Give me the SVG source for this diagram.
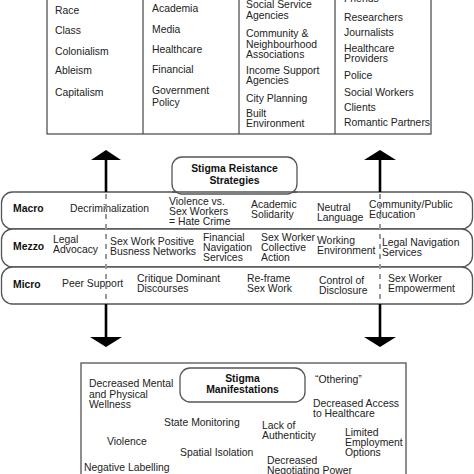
<svg xmlns="http://www.w3.org/2000/svg" width="474" height="474" viewBox="0 0 474 474">
<defs>
<style>
text{font-family:"Liberation Sans",Arial,Helvetica,sans-serif;font-size:10.4px;fill:#222}
.b{font-weight:bold;fill:#111}
.box{fill:#fff;stroke:#444;stroke-width:1.2}
.band{fill:#fff;stroke:#555;stroke-width:1.3}
.shaft{stroke:#000;stroke-width:2.6;fill:none}
.dash{stroke:#999;stroke-width:2;stroke-dasharray:5 5;fill:none}
.head{fill:#000}
</style>
</defs>
<rect width="474" height="474" fill="#fff"/>

<g id="influences">
<rect class="box" x="47" y="-10" width="384" height="144"/>
<line x1="143" y1="-10" x2="143" y2="134" stroke="#444" stroke-width="1.2"/>
<line x1="239" y1="-10" x2="239" y2="134" stroke="#444" stroke-width="1.2"/>
<line x1="335" y1="-10" x2="335" y2="134" stroke="#444" stroke-width="1.2"/>
<text x="55" y="14">Race</text>
<text x="55" y="34">Class</text>
<text x="55" y="55">Colonialism</text>
<text x="55" y="74">Ableism</text>
<text x="55" y="96">Capitalism</text>
<text x="152" y="12">Academia</text>
<text x="152" y="33">Media</text>
<text x="152" y="53">Healthcare</text>
<text x="152" y="73">Financial</text>
<text x="152" y="94">Government</text>
<text x="152" y="106">Policy</text>
<text x="246" y="8">Social Service</text>
<text x="246" y="19">Agencies</text>
<text x="246" y="37">Community &amp;</text>
<text x="246" y="48">Neighbourhood</text>
<text x="246" y="58">Associations</text>
<text x="246" y="74">Income Support</text>
<text x="246" y="84">Agencies</text>
<text x="246" y="102">City Planning</text>
<text x="246" y="117">Built</text>
<text x="246" y="127">Environment</text>
<text x="344" y="2">Friends</text>
<text x="344" y="21">Researchers</text>
<text x="344" y="36">Journalists</text>
<text x="344" y="52">Healthcare</text>
<text x="344" y="62">Providers</text>
<text x="344" y="79">Police</text>
<text x="344" y="96">Social Workers</text>
<text x="344" y="111">Clients</text>
<text x="344" y="126">Romantic Partners</text>
</g>

<g id="macro">
<rect class="band" x="1.5" y="192" width="471" height="37" rx="11"/>
<text class="b" x="13" y="212">Macro</text>
<text x="70" y="212">Decriminalization</text>
<text x="169" y="205">Violence vs.</text>
<text x="169" y="215">Sex Workers</text>
<text x="169" y="225">= Hate Crime</text>
<text x="251" y="208">Academic</text>
<text x="251" y="218">Solidarity</text>
<text x="317" y="211">Neutral</text>
<text x="317" y="221">Language</text>
<text x="369" y="208">Community/Public</text>
<text x="369" y="218">Education</text>
</g>

<g id="mezzo">
<rect class="band" x="1.5" y="229" width="471" height="38" rx="11"/>
<text class="b" x="13" y="250">Mezzo</text>
<text x="53" y="243">Legal</text>
<text x="53" y="253">Advocacy</text>
<text x="110" y="245">Sex Work Positive</text>
<text x="110" y="255">Busness Networks</text>
<text x="203" y="241">Financial</text>
<text x="203" y="251">Navigation</text>
<text x="203" y="261">Services</text>
<text x="261" y="241">Sex Worker</text>
<text x="261" y="251">Collective</text>
<text x="261" y="261">Action</text>
<text x="317" y="244">Working</text>
<text x="317" y="254">Environment</text>
<text x="382" y="246">Legal Navigation</text>
<text x="382" y="256">Services</text>
</g>

<g id="micro">
<rect class="band" x="1.5" y="267" width="471" height="37" rx="11"/>
<text class="b" x="13" y="288">Micro</text>
<text x="62" y="287">Peer Support</text>
<text x="137" y="282">Critique Dominant</text>
<text x="137" y="292">Discourses</text>
<text x="247" y="282">Re-frame</text>
<text x="247" y="292">Sex Work</text>
<text x="319" y="284">Control of</text>
<text x="319" y="294">Disclosure</text>
<text x="388" y="282">Sex Worker</text>
<text x="388" y="292">Empowerment</text>
</g>

<g id="connectors">
<line class="shaft" x1="106" y1="158" x2="106" y2="192"/>
<polygon class="head" points="91,160 121,160 106,150"/>
<line class="dash" x1="106" y1="194" x2="106" y2="304"/>
<line class="shaft" x1="106" y1="304" x2="106" y2="339"/>
<polygon class="head" points="90,337 122,337 106,347"/>
<line class="shaft" x1="380" y1="158" x2="380" y2="192"/>
<polygon class="head" points="364,160 396,160 380,150"/>
<line class="dash" x1="380" y1="194" x2="380" y2="304"/>
<line class="shaft" x1="380" y1="304" x2="380" y2="339"/>
<polygon class="head" points="364,337 396,337 380,347"/>
</g>

<g id="resistance-title">
<rect class="band" x="172" y="157" width="125" height="37" rx="10"/>
<line x1="172" y1="192" x2="297" y2="192" stroke="#555" stroke-width="1.3"/>
<text class="b" x="234.5" y="172" text-anchor="middle">Stigma Reistance</text>
<text class="b" x="234.5" y="184" text-anchor="middle">Strategies</text>
</g>

<g id="manifestations">
<rect class="box" x="81" y="363" width="325" height="125"/>
<text x="89" y="387">Decreased Mental</text>
<text x="89" y="398">and Physical</text>
<text x="89" y="408">Wellness</text>
<text x="164" y="426">State Monitoring</text>
<text x="107" y="445">Violence</text>
<text x="180" y="456">Spatial Isolation</text>
<text x="84" y="471">Negative Labelling</text>
<text x="262" y="429">Lack of</text>
<text x="262" y="439">Authenticity</text>
<text x="267" y="464">Decreased</text>
<text x="267" y="474">Negotiating Power</text>
<text x="315" y="383">“Othering”</text>
<text x="313" y="407">Decreased Access</text>
<text x="313" y="417">to Healthcare</text>
<text x="345" y="436">Limited</text>
<text x="345" y="446">Employment</text>
<text x="345" y="456">Options</text>
</g>

<g id="manifestations-title">
<rect class="band" x="180" y="368" width="125" height="34" rx="10"/>
<text class="b" x="242.5" y="382" text-anchor="middle">Stigma</text>
<text class="b" x="242.5" y="393" text-anchor="middle">Manifestations</text>
</g>
</svg>
